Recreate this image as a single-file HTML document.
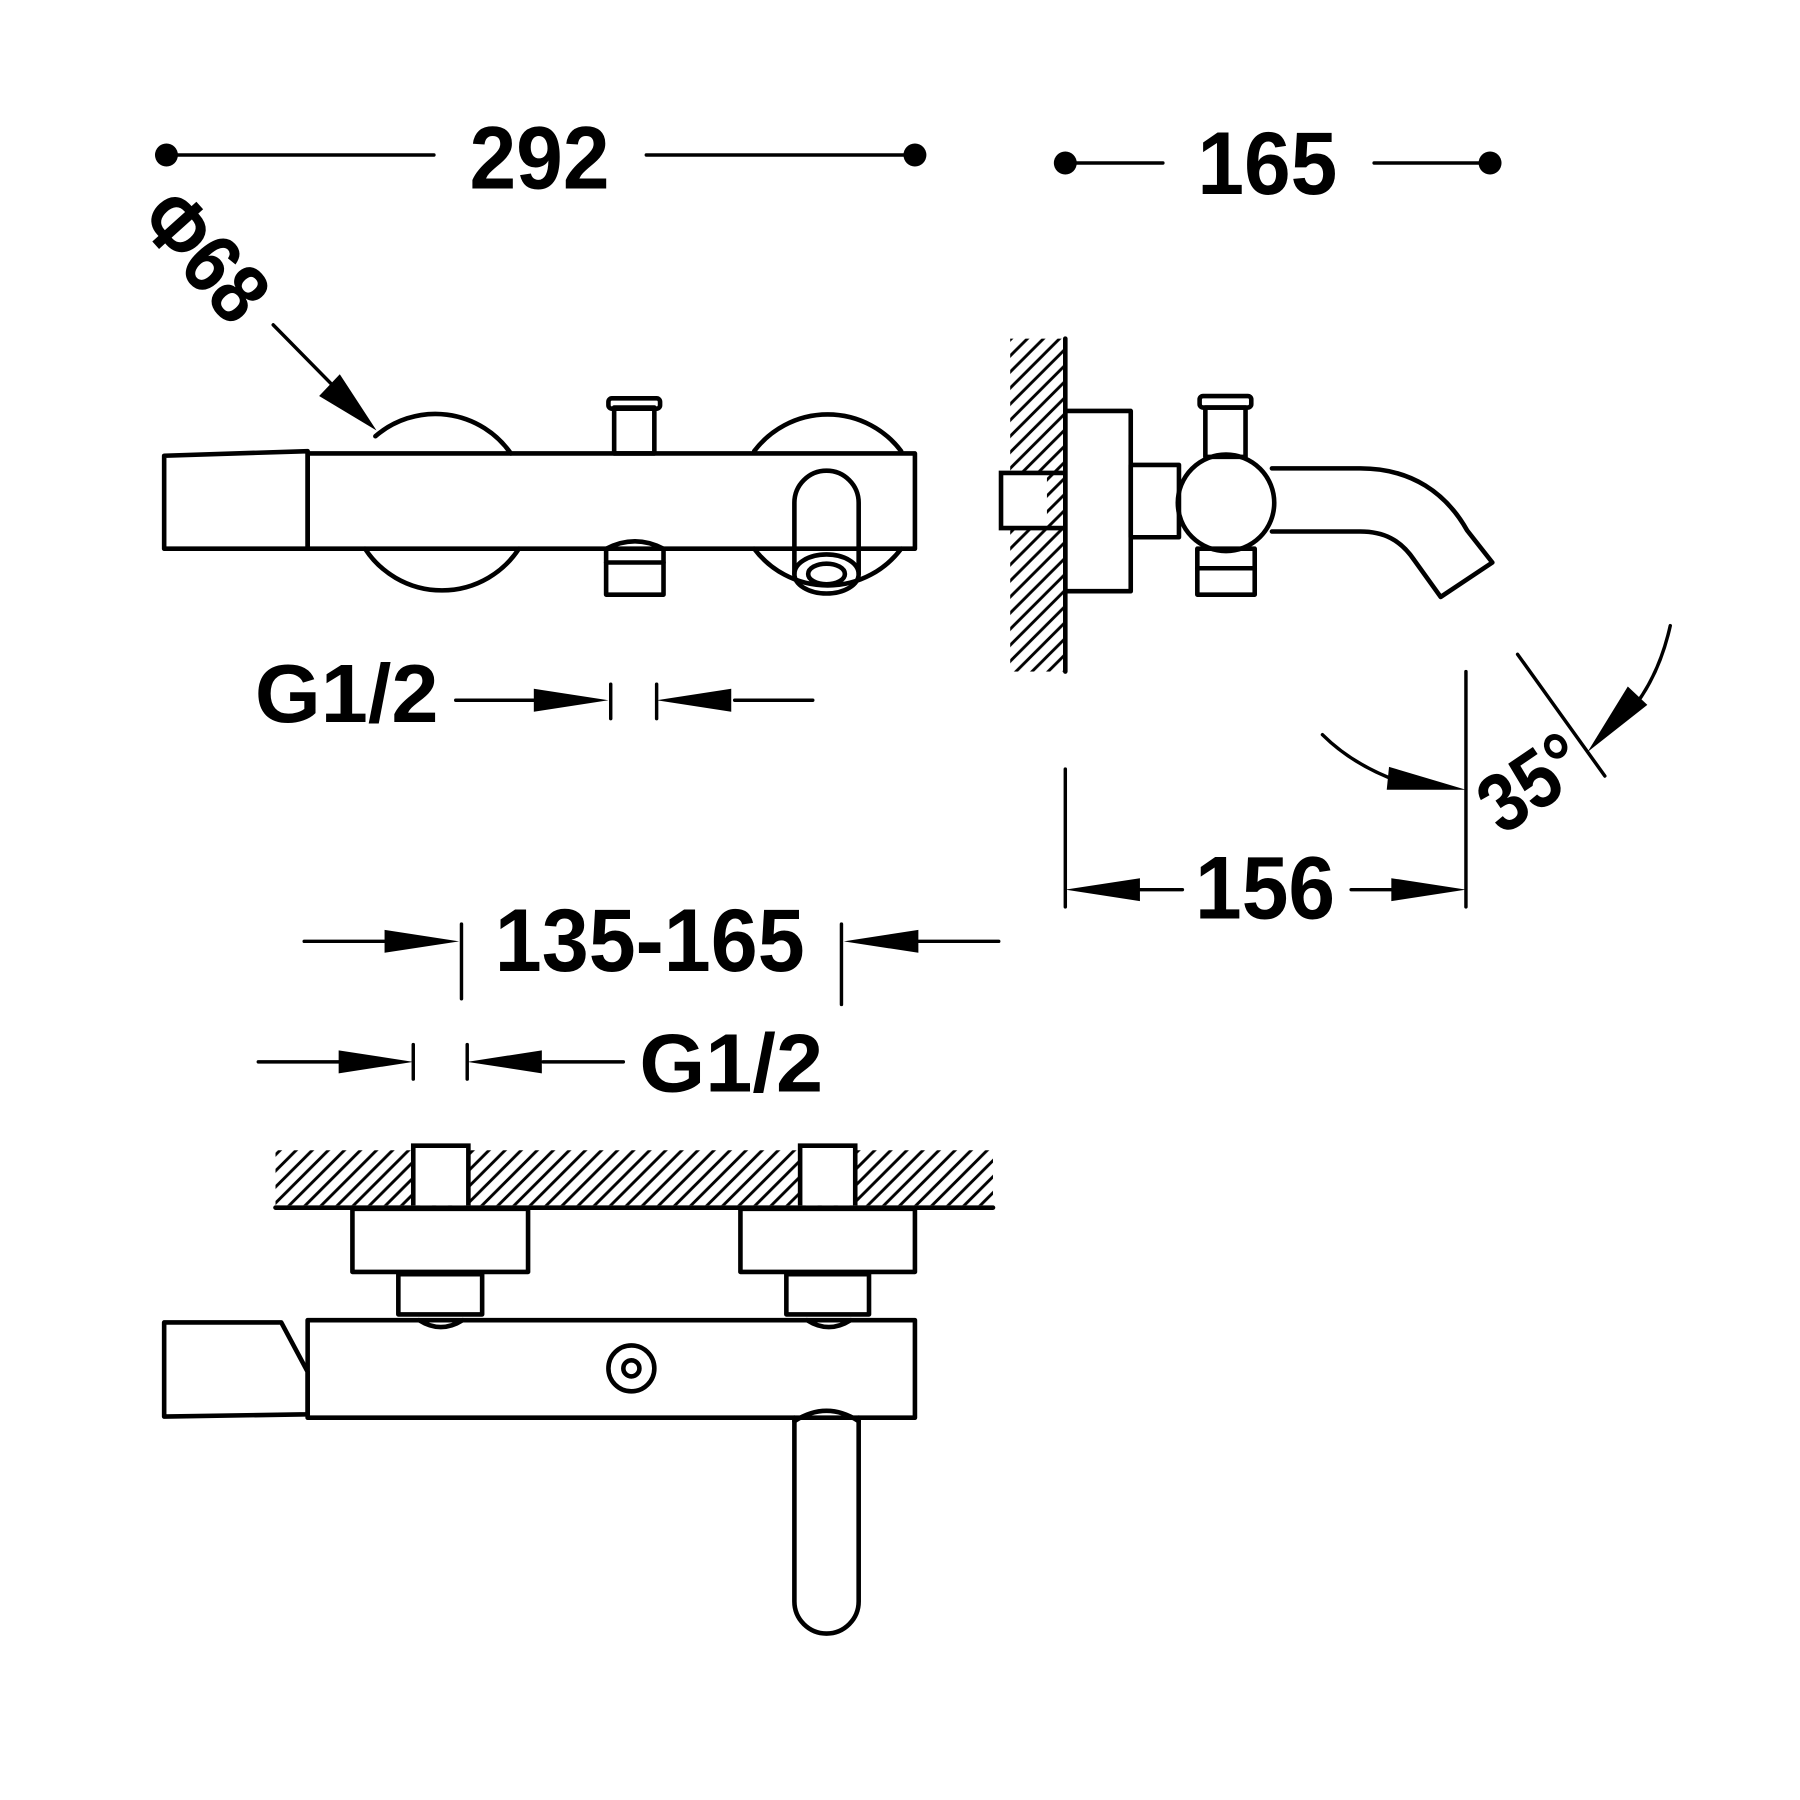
<!DOCTYPE html>
<html><head><style>html,body{margin:0;padding:0;background:#fff}svg{display:block}</style></head>
<body>
<svg width="1800" height="1800" viewBox="0 0 1568 1568" xmlns="http://www.w3.org/2000/svg">
<defs>
<pattern id="h" width="14" height="14" patternUnits="userSpaceOnUse">
<path d="M-2,16 L16,-2 M-9,9 L9,-9 M5,23 L23,5" stroke="#000" stroke-width="2.5"/>
</pattern>
</defs>
<g font-family="Liberation Sans, sans-serif" font-weight="bold" fill="#000" text-anchor="middle">
<text x="470" y="164" font-size="78" textLength="122" lengthAdjust="spacingAndGlyphs">292</text>
<text x="1104" y="169" font-size="78" textLength="122" lengthAdjust="spacingAndGlyphs">165</text>
<text x="302" y="629" font-size="72" textLength="160" lengthAdjust="spacingAndGlyphs">G1/2</text>
<text x="1102" y="800" font-size="78" textLength="122" lengthAdjust="spacingAndGlyphs">156</text>
<text x="566" y="846" font-size="78" textLength="270" lengthAdjust="spacingAndGlyphs">135-165</text>
<text x="637" y="951" font-size="72" textLength="160" lengthAdjust="spacingAndGlyphs">G1/2</text>
<text x="0" y="0" font-size="74" textLength="125" lengthAdjust="spacingAndGlyphs" transform="translate(160,240) rotate(48)">Φ68</text>
<text x="0" y="0" font-size="72" textLength="95" lengthAdjust="spacingAndGlyphs" transform="translate(1348,702) rotate(-34)">35°</text>
</g>
<g stroke="#000" stroke-width="4" fill="none" stroke-linejoin="round" stroke-linecap="round">
<line x1="145" y1="135" x2="378" y2="135" stroke-width="3"/>
<line x1="563" y1="135" x2="797" y2="135" stroke-width="3"/>
<line x1="928" y1="142" x2="1013" y2="142" stroke-width="3"/>
<line x1="1197" y1="142" x2="1298" y2="142" stroke-width="3"/>
<line x1="238" y1="283" x2="300" y2="346" stroke-width="3"/>
<path d="M327,380 A80,80 0 0 1 445,395"/>
<path d="M318,478 A80,80 0 0 0 452,478"/>
<path d="M657,393 A80,80 0 0 1 785,393"/>
<path d="M657,478 A80,80 0 0 0 785,478"/>
<rect x="268" y="395" width="529" height="83"/>
<path d="M143,397 L268,393 L268,478 L143,478 Z"/>
<rect x="535" y="355" width="35" height="40"/>
<rect x="530" y="347" width="45" height="9" rx="3"/>
<path d="M528,478 Q553,465 578,478 L578,518 L528,518 Z"/>
<line x1="528" y1="490" x2="578" y2="490"/>
<path d="M692,500 L692,438 A28,28 0 0 1 748,438 L748,500"/>
<ellipse cx="720" cy="500" rx="28" ry="17"/>
<ellipse cx="720" cy="500" rx="16" ry="9"/>
<line x1="397" y1="610" x2="470" y2="610" stroke-width="3"/>
<line x1="532" y1="596" x2="532" y2="626" stroke-width="3"/>
<line x1="572" y1="596" x2="572" y2="626" stroke-width="3"/>
<line x1="640" y1="610" x2="708" y2="610" stroke-width="3"/>
<line x1="928" y1="295" x2="928" y2="585"/>
<rect x="928" y="358" width="57" height="157"/>
<rect x="985" y="405" width="42" height="63"/>
<circle cx="1068" cy="438" r="42"/>
<rect x="1050" y="355" width="35" height="43"/>
<rect x="1045" y="345" width="45" height="10" rx="3"/>
<rect x="1043" y="478" width="50" height="40"/>
<line x1="1043" y1="495" x2="1093" y2="495"/>
<path d="M1108,408 L1185,408 C1230,408 1260,430 1278,462 L1300,490 L1255,520 L1232,488 C1220,470 1205,463 1185,463 L1108,463"/>
<line x1="1277" y1="585" x2="1277" y2="790" stroke-width="3"/>
<line x1="1322" y1="570" x2="1398" y2="676" stroke-width="3"/>
<path d="M1152,640 Q1180,668 1225,683" stroke-width="3"/>
<path d="M1455,545 Q1445,590 1420,620" stroke-width="3"/>
<line x1="928" y1="670" x2="928" y2="790" stroke-width="3"/>
<line x1="990" y1="775" x2="1030" y2="775" stroke-width="3"/>
<line x1="1177" y1="775" x2="1215" y2="775" stroke-width="3"/>
<line x1="265" y1="820" x2="335" y2="820" stroke-width="3"/>
<line x1="402" y1="805" x2="402" y2="870" stroke-width="3"/>
<line x1="733" y1="805" x2="733" y2="875" stroke-width="3"/>
<line x1="800" y1="820" x2="870" y2="820" stroke-width="3"/>
<line x1="225" y1="925" x2="295" y2="925" stroke-width="3"/>
<line x1="360" y1="910" x2="360" y2="940" stroke-width="3"/>
<line x1="407" y1="910" x2="407" y2="940" stroke-width="3"/>
<line x1="473" y1="925" x2="543" y2="925" stroke-width="3"/>
<line x1="240" y1="1052" x2="865" y2="1052"/>
<rect x="307" y="1053" width="153" height="55"/>
<rect x="645" y="1053" width="152" height="55"/>
<rect x="347" y="1110" width="73" height="35"/>
<rect x="685" y="1110" width="72" height="35"/>
<path d="M365,1150 Q384,1162 403,1150"/>
<path d="M703,1150 Q722,1162 741,1150"/>
<rect x="268" y="1150" width="529" height="85"/>
<path d="M143,1152 L245,1152 L268,1195 L268,1232 L143,1234 Z"/>
<circle cx="550" cy="1192" r="20"/>
<circle cx="550" cy="1192" r="7"/>
<path d="M692,1235 L692,1395 A28,28 0 0 0 748,1395 L748,1235"/>
<path d="M692,1238 Q720,1220 748,1238"/>
</g>
<rect x="880" y="295" width="46" height="290" fill="url(#h)"/>
<rect x="240" y="1002" width="625" height="48" fill="url(#h)"/>
<g fill="#fff" stroke="#000" stroke-width="4">
<path d="M360,1050 L360,998 L408,998 L408,1050"/>
<path d="M697,1050 L697,998 L745,998 L745,1050"/>
<rect x="872" y="412" width="40" height="48" stroke="none"/>
</g>
<path d="M928,412 L872,412 L872,460 L928,460" fill="none" stroke="#000" stroke-width="4"/>
<g fill="#000">
<circle cx="145" cy="135" r="10"/><circle cx="797" cy="135" r="10"/>
<circle cx="928" cy="142" r="10"/><circle cx="1298" cy="142" r="10"/>
<polygon points="328,375 278,345 296,326"/>
<polygon points="530,610 465,600 465,620"/>
<polygon points="572,610 637,600 637,620"/>
<polygon points="400,820 335,810 335,830"/>
<polygon points="735,820 800,810 800,830"/>
<polygon points="360,925 295,915 295,935"/>
<polygon points="407,925 472,915 472,935"/>
<polygon points="928,775 993,765 993,785"/>
<polygon points="1277,775 1212,765 1212,785"/>
<polygon points="1277,688 1210,668 1208,688"/>
<polygon points="1383,655 1418,598 1435,614"/>
</g>
</svg>
</body></html>
